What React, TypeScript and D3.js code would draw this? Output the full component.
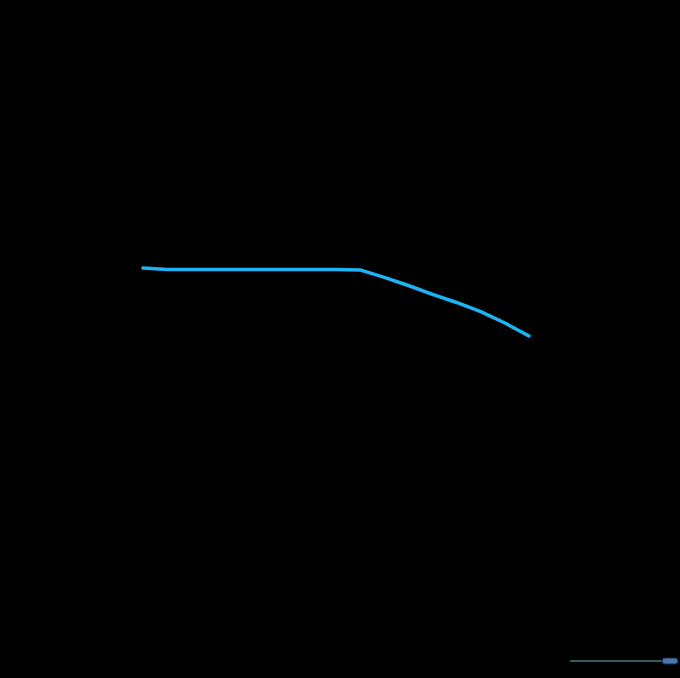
import * as d3 from "d3";

const WIDTH = 680;
const HEIGHT = 678;
const PLOT = { left: 143, right: 529, top: 170, bottom: 620 };

// Series: flat plateau, then a steepening decline.
const steps = d3.range(0, 17);
const values = [
  78.2, 77.89, 77.89, 77.89, 77.89, 77.89, 77.89, 77.89, 77.89, 77.8, 76.13, 74.33, 72.38,
  70.56, 68.53, 66.0, 63.11,
];
const VALUE_DOMAIN: [number, number] = [0, 100];

// Range slider under the chart: the selected window sits at the far end.
const sliderExtent: [number, number] = [0, 16];
const sliderSelection: [number, number] = [15.2, 16];

const LINE_COLOR = "#1eb3f2";

export default function App() {
  const x = d3.scaleLinear().domain(d3.extent(steps) as [number, number]).range([PLOT.left, PLOT.right]);
  const y = d3.scaleLinear().domain(VALUE_DOMAIN).range([PLOT.bottom, PLOT.top]);
  const line = d3
    .line<number>()
    .x((_, i) => x(steps[i]))
    .y((d) => y(d));

  const sx = d3.scaleLinear().domain(sliderExtent).range([570, 670]);
  const handleW = 16;
  const handleX = sx(sliderSelection[1]) - handleW / 2;

  return (
    <div style={{ position: "fixed", inset: 0, background: "#000" }}>
      <svg width={WIDTH} height={HEIGHT} style={{ display: "block" }}>
        <rect width={WIDTH} height={HEIGHT} fill="#000" />
        <path
          d={line(values) ?? ""}
          fill="none"
          stroke={LINE_COLOR}
          strokeWidth={3.5}
          strokeLinecap="round"
          strokeLinejoin="round"
        />
        <g>
          <line
            x1={sx(sliderExtent[0])}
            x2={handleX}
            y1={661}
            y2={661}
            stroke="#6fb3c4"
            strokeWidth={1}
          />
          <rect
            x={handleX}
            y={658}
            width={handleW}
            height={6}
            rx={3}
            fill="#4a78a8"
            stroke="#1b2d5c"
            strokeWidth={1.2}
          />
        </g>
      </svg>
    </div>
  );
}
